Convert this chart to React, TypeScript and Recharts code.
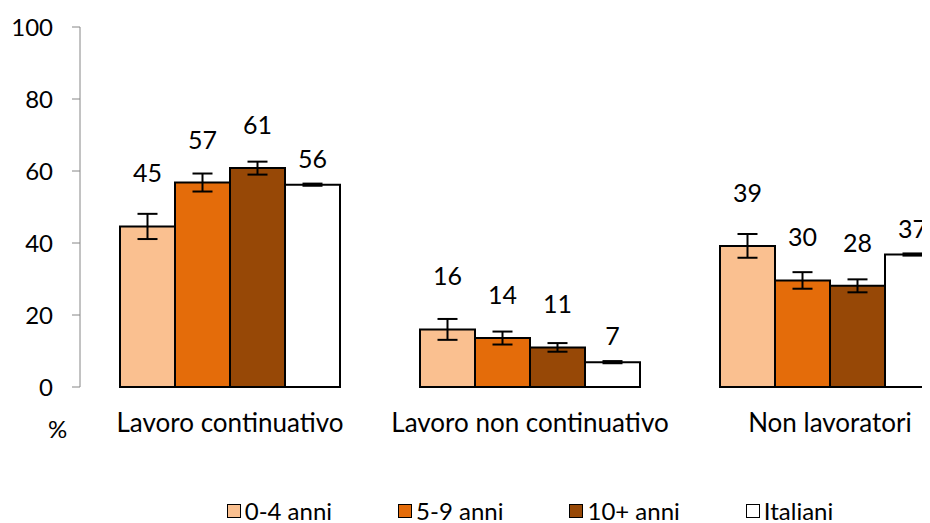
import { Bar, BarChart, ErrorBar, LabelList, XAxis, YAxis } from 'recharts';

const categories = ['Lavoro continuativo', 'Lavoro non continuativo', 'Non lavoratori'];
const anni04 = [44.6, 16.0, 39.2];
const anni59 = [56.8, 13.6, 29.6];
const anni10 = [60.8, 11.0, 28.1];
const italiani = [56.2, 6.9, 36.8];
const err04 = [3.5, 2.9, 3.3];
const err59 = [2.5, 1.8, 2.3];
const err10 = [1.8, 1.2, 1.8];
const errIta = [0.3, 0.3, 0.3];
const yTicks = [0, 20, 40, 60, 80, 100];

const FONT = 'Lato, "Open Sans", sans-serif';

const SERIES = [
  { key: 'a04', err: 'e04', name: '0-4 anni', color: '#FAC090', offset: 44 },
  { key: 'a59', err: 'e59', name: '5-9 anni', color: '#E46C0A', offset: 34 },
  { key: 'a10', err: 'e10', name: '10+ anni', color: '#974806', offset: 34 },
  { key: 'ita', err: 'eIta', name: 'Italiani', color: '#FFFFFF', offset: 17 },
];

const data = categories.map((name, i) => ({
  name,
  a04: anni04[i],
  a59: anni59[i],
  a10: anni10[i],
  ita: italiani[i],
  e04: err04[i],
  e59: err59[i],
  e10: err10[i],
  eIta: errIta[i],
}));

export default function App() {
  return (
    <div style={{ position: 'relative', width: 914, height: 515, overflow: 'hidden', fontFamily: FONT }}>
      <BarChart
        width={1000}
        height={515}
        data={data}
        margin={{ top: 19, right: 28, bottom: 86, left: 0 }}
        barCategoryGap={40}
        barGap={0}
      >
        <XAxis
          dataKey="name"
          axisLine={false}
          tickLine={false}
          tickSize={0}
          tickMargin={27}
          height={50}
          interval={0}
          tick={{ fill: '#000', fontSize: 26, fontFamily: FONT }}
        />
        <YAxis
          domain={[0, 100]}
          ticks={yTicks}
          width={72}
          tickSize={8}
          tickMargin={19}
          axisLine={{ stroke: '#868686', strokeWidth: 1 }}
          tickLine={{ stroke: '#868686', strokeWidth: 1 }}
          tick={{ fill: '#000', fontSize: 24, fontFamily: FONT }}
        />
        {SERIES.map((s) => (
          <Bar
            key={s.key}
            dataKey={s.key}
            fill={s.color}
            stroke="#000"
            strokeWidth={2}
            isAnimationActive={false}
          >
            <ErrorBar dataKey={s.err} width={10} stroke="#000" strokeWidth={2} isAnimationActive={false} />
            <LabelList
              dataKey={s.key}
              position="top"
              offset={s.offset}
              formatter={(v: any) => Math.round(Number(v))}
              style={{ fill: '#000', fontSize: 25, fontFamily: FONT }}
            />
          </Bar>
        ))}
      </BarChart>
      <span style={{ position: 'absolute', left: 40, top: 406, fontSize: 24, color: '#000' }}>%</span>
      <div
        style={{
          position: 'absolute',
          left: 72,
          width: 900,
          top: 492,
          display: 'flex',
          justifyContent: 'center',
          gap: 66,
          fontSize: 24,
          lineHeight: '22px',
          color: '#000',
        }}
      >
        {SERIES.map((s) => (
          <div key={s.key} style={{ display: 'flex', alignItems: 'center', gap: 4 }}>
            <span
              style={{
                display: 'inline-block',
                width: 12,
                height: 12,
                background: s.color,
                border: '1.5px solid #000',
              }}
            />
            <span>{s.name}</span>
          </div>
        ))}
      </div>
    </div>
  );
}
